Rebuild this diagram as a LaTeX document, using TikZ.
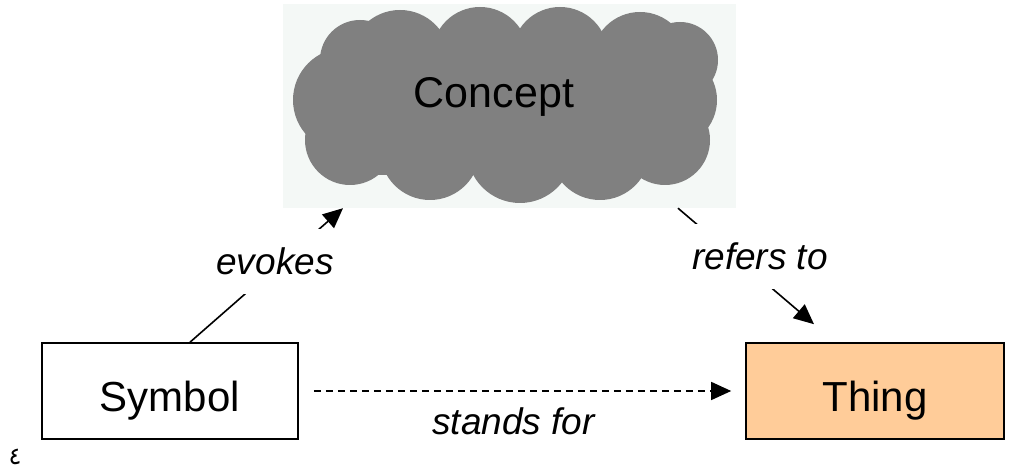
\documentclass[tikz,border=0pt]{standalone}
\usepackage{fontspec}
\setmainfont{Liberation Sans}
\newfontfamily\arabicfont[Script=Arabic]{DejaVu Sans}
\TeXXeTstate=1
\usetikzlibrary{arrows.meta}
\definecolor{pale}{RGB}{244,248,246}
\definecolor{peach}{RGB}{255,204,153}
\definecolor{cloudgray}{RGB}{128,128,128}
\begin{document}
\begin{tikzpicture}
[x=1pt,y=1pt,>={Triangle[length=20pt,width=18pt]},
box/.style = {draw, line width=1.6pt, minimum width=256pt, minimum height=96pt, inner sep=0pt,
  font=\fontsize{42}{42}\selectfont, text height=42pt, text depth=0pt},
lbl/.style = {fill=white, inner sep=19pt, font=\fontsize{37}{37}\selectfont\itshape},
link/.style = {->, line width=1.6pt},]

\useasboundingbox (0,0) rectangle (1010,470);
\node (concept) at (509.5,364)[fill=pale, minimum width=453pt, minimum height=204pt, inner sep=0pt] {};
% the cloud, made of puffs
\fill[cloudgray, rounded corners=30pt] (330,295) rectangle (690,430);
\foreach \cx/\cy/\r in {400/410/50, 480/415/48, 560/415/48, 640/410/48, 345/370/52, 350/330/45,
  670/370/47, 665/330/45, 430/320/50, 520/320/53, 600/320/50, 360/410/40, 680/410/38}
  \fill[cloudgray] (\cx,\cy) circle (\r);
\node (concepttext) at (494,362)[anchor=base, font=\fontsize{43}{43}\selectfont] {Concept};
\node (symbol) at (170,79)[box] {Symbol};
\node (thing) at (875,79)[box, minimum width=258pt, fill=peach] {Thing};
\draw[link] ([xshift=20pt]symbol.north)--([xshift=-166.5pt]concept.south);
\draw[link] ([xshift=168.5pt]concept.south)--([xshift=-61pt,yshift=18pt]thing.north);
\draw[link, line width=1.4pt, dash pattern=on 7pt off 5pt] ([xshift=15pt]symbol.east)--([xshift=-14pt]thing.west);
\node (evokes) at (275,195)[lbl, anchor=base] {evokes};
\node (refers) at (760,200)[lbl, anchor=base] {refers to};
\node (stands) at (513.5,35)[anchor=base, font=\fontsize{37}{37}\selectfont\itshape] {stands for};
\node (mark) at (15,13)[font=\fontsize{24}{24}\selectfont] {\arabicfont\beginR ٤\endR};
\end{tikzpicture}
\end{document}
